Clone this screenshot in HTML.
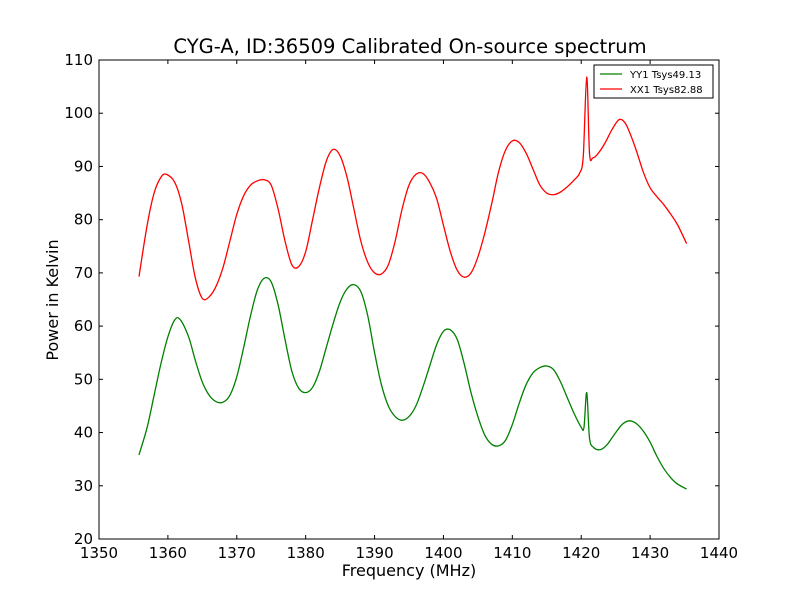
<!DOCTYPE html>
<html><head><meta charset="utf-8"><style>
body{margin:0;background:#fff;}
svg text{font-family:"DejaVu Sans","Liberation Sans",sans-serif;}
</style></head><body>
<svg id="chart" width="800" height="600" xmlns="http://www.w3.org/2000/svg">
<rect x="0" y="0" width="800" height="600" fill="#fff"/>
<g id="axes"></g>
<g id="series"></g>
<text x="410" y="53" text-anchor="middle" font-size="19.5">CYG-A, ID:36509 Calibrated On-source spectrum</text>
<text x="409" y="576" text-anchor="middle" font-size="16">Frequency (MHz)</text>
<text transform="translate(58,300) rotate(-90)" text-anchor="middle" font-size="16">Power in Kelvin</text>
<g>
<rect x="594" y="65" width="119" height="33" fill="#fff" stroke="#000" stroke-width="1"/>
<line x1="600" y1="74" x2="622" y2="74" stroke="green" stroke-width="1.2"/>
<text x="630" y="78" font-size="10">YY1 Tsys49.13</text>
<line x1="600" y1="89" x2="622" y2="89" stroke="red" stroke-width="1.2"/>
<text x="630" y="93" font-size="10">XX1 Tsys82.88</text>
</g>
</svg>
<script>
const xTicks=[1350,1360,1370,1380,1390,1400,1410,1420,1430,1440];
const yTicks=[20,30,40,50,60,70,80,90,100,110];
const redFreq=[1355.8,1357,1358,1359,1359.8,1361,1362,1363,1364,1365,1366,1367,1368,1369,1370,1371,1372,1373,1374,1375,1376,1377,1378,1379,1380,1381,1382,1383,1384,1385,1386,1387,1388,1389,1390,1391,1392,1393,1394,1395,1396,1397,1398,1399,1400,1401,1402,1403,1404,1405,1406,1407,1408,1409,1410,1411,1412,1413,1414,1415,1416,1417,1418,1419,1419.8,1420.3,1420.8,1421.2,1421.7,1422.5,1423.5,1424.5,1425.5,1426.3,1427,1428,1429,1430,1431,1432,1433,1434,1435.3];
const redVals=[69.3,79,85,88,88.5,87,83,76,69,65.2,65.5,67.5,71,76,81,84.5,86.5,87.3,87.5,86.5,82,76,71.5,71.2,74,80,86,91,93.2,92,88,82,76,72,70,69.8,71.5,76,82,86.5,88.5,88.7,87,84,79,74,70.5,69.2,70,73,77.5,83,89,93,94.8,94.5,92.5,89.5,86.5,85,84.7,85.2,86.2,87.5,88.8,92,106.8,92.5,91.6,92.5,94.5,97,98.8,98.3,96.5,93,89,86,84.3,82.8,81,79,75.5];
const greenFreq=[1355.8,1357,1358,1359,1360,1361,1361.8,1363,1364,1365,1366,1367,1368,1369,1370,1371,1372,1373,1374,1375,1376,1377,1378,1379,1380,1381,1382,1383,1384,1385,1386,1387,1388,1389,1390,1391,1392,1393,1394,1395,1396,1397,1398,1399,1400,1401,1402,1403,1404,1405,1406,1407,1408,1409,1410,1411,1412,1413,1414,1415,1416,1417,1418,1419,1420,1420.4,1420.8,1421.2,1421.8,1422.8,1423.8,1425,1426,1427,1428,1429,1430,1431,1432,1433,1434,1435.3];
const greenVals=[35.8,41,47,53,58,61.2,61.2,58,53.5,49.5,47,45.8,45.7,47,50.5,56,62,66.8,69,68.3,64,57.5,51.5,48.3,47.5,48.5,51.5,56,60.5,64.5,67,67.8,66.5,62,55,49,45,43,42.3,43,45,48.5,52.5,56.5,59,59.3,57.5,53,47.5,43,39.5,37.8,37.5,38.5,41.5,45.5,49,51.2,52.2,52.5,51.8,49.5,46.5,43.5,41,41,47.5,39,37.2,36.8,37.8,40,41.6,42.2,41.7,40.3,38.2,35.5,33.2,31.5,30.3,29.4];
const L=99,R=719,T=60,B=539;
const xs=v=>L+(v-1350)/(1440-1350)*(R-L);
const ys=v=>B-(v-20)/(110-20)*(B-T);
const NS="http://www.w3.org/2000/svg";
const ax=document.getElementById('axes');
function mk(tag,attrs,parent){const e=document.createElementNS(NS,tag);for(const k in attrs)e.setAttribute(k,attrs[k]);parent.appendChild(e);return e;}
const frame=mk('rect',{x:L,y:T,width:R-L,height:B-T,fill:'none',stroke:'#000','stroke-width':1},ax);


xTicks.forEach(t=>{const x=xs(t);
mk('line',{x1:x,y1:B,x2:x,y2:B-4,stroke:'#000'},ax);
mk('line',{x1:x,y1:T,x2:x,y2:T+4,stroke:'#000'},ax);
const tx=mk('text',{x:x,y:B+19,'text-anchor':'middle','font-size':15},ax);tx.textContent=t;

});
yTicks.forEach(t=>{const y=ys(t);
mk('line',{x1:L,y1:y,x2:L+4,y2:y,stroke:'#000'},ax);
mk('line',{x1:R,y1:y,x2:R-4,y2:y,stroke:'#000'},ax);
const tx=mk('text',{x:L-6,y:y+5,'text-anchor':'end','font-size':15},ax);tx.textContent=t;

});
const sg=document.getElementById('series');
function line(f,v,c,name){
const P=f.map((x,i)=>[xs(x),ys(v[i])]);
let d='M'+P[0][0].toFixed(1)+','+P[0][1].toFixed(1);
const k=1/6;
for(let i=0;i<P.length-1;i++){
const p0=P[Math.max(0,i-1)],p1=P[i],p2=P[i+1],p3=P[Math.min(P.length-1,i+2)];
const c1=[p1[0]+(p2[0]-p0[0])*k,p1[1]+(p2[1]-p0[1])*k];
const c2=[p2[0]-(p3[0]-p1[0])*k,p2[1]-(p3[1]-p1[1])*k];
d+='C'+c1[0].toFixed(1)+','+c1[1].toFixed(1)+' '+c2[0].toFixed(1)+','+c2[1].toFixed(1)+' '+p2[0].toFixed(1)+','+p2[1].toFixed(1);}
const p=mk('path',{d:d,fill:'none',stroke:c,'stroke-width':1.3,'stroke-linejoin':'round'},sg);

}
line(greenFreq,greenVals,'green','yy1-line');
line(redFreq,redVals,'red','xx1-line');
</script>
</body></html>
